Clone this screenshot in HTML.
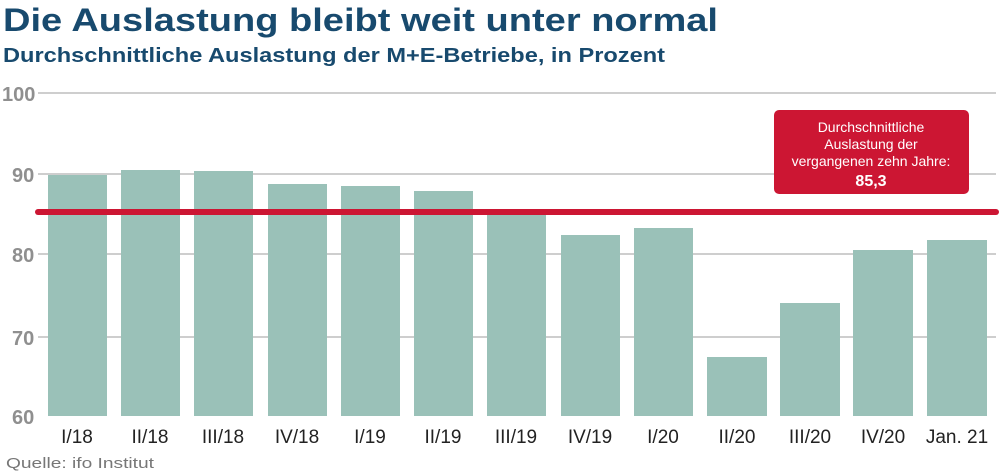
<!DOCTYPE html>
<html><head><meta charset="utf-8"><style>
html,body{margin:0;padding:0;background:#fff;}
svg{display:block;font-family:"Liberation Sans",sans-serif;}
</style></head><body>
<svg width="1000" height="475" viewBox="0 0 1000 475">
<text x="3" y="31" font-size="32" font-weight="bold" fill="#184a6e" textLength="715" lengthAdjust="spacingAndGlyphs">Die Auslastung bleibt weit unter normal</text>
<text x="3" y="62" font-size="20" font-weight="bold" fill="#184a6e" textLength="662" lengthAdjust="spacingAndGlyphs">Durchschnittliche Auslastung der M+E-Betriebe, in Prozent</text>
<g stroke="#bdbdbd" stroke-width="1.5">
<line x1="38" y1="93" x2="996" y2="93"/>
<line x1="38" y1="174" x2="996" y2="174"/>
<line x1="38" y1="254" x2="996" y2="254"/>
<line x1="38" y1="337" x2="996" y2="337"/>
</g>
<g font-size="20" font-weight="bold" fill="#8f8f8f">
<text x="2" y="101">100</text>
<text x="12" y="182">90</text>
<text x="12" y="262">80</text>
<text x="12" y="345">70</text>
<text x="12" y="424">60</text>
</g>
<g fill="#9ac1b8">
<rect x="48" y="175" width="59" height="241"/>
<rect x="121" y="170" width="59" height="246"/>
<rect x="194" y="171" width="59" height="245"/>
<rect x="268" y="184" width="59" height="232"/>
<rect x="341" y="186" width="59" height="230"/>
<rect x="414" y="191" width="59" height="225"/>
<rect x="487" y="209" width="59" height="207"/>
<rect x="561" y="235" width="59" height="181"/>
<rect x="634" y="228" width="59" height="188"/>
<rect x="707" y="357" width="60" height="59"/>
<rect x="780" y="303" width="60" height="113"/>
<rect x="853" y="250" width="60" height="166"/>
<rect x="927" y="240" width="60" height="176"/>
</g>
<line x1="38" y1="212" x2="996" y2="212" stroke="#cc1633" stroke-width="6" stroke-linecap="round"/>
<rect x="774" y="110" width="195" height="84" rx="5" fill="#cc1633"/>
<g fill="#fff" font-size="14" text-anchor="middle">
<text x="871" y="132">Durchschnittliche</text>
<text x="871" y="149">Auslastung der</text>
<text x="871" y="166">vergangenen zehn Jahre:</text>
<text x="871" y="186" font-size="16" font-weight="bold">85,3</text>
</g>
<g font-size="19" fill="#222" text-anchor="middle">
<text x="77" y="443">I/18</text>
<text x="150" y="443">II/18</text>
<text x="223" y="443">III/18</text>
<text x="297" y="443">IV/18</text>
<text x="370" y="443">I/19</text>
<text x="443" y="443">II/19</text>
<text x="516" y="443">III/19</text>
<text x="590" y="443">IV/19</text>
<text x="663" y="443">I/20</text>
<text x="737" y="443">II/20</text>
<text x="810" y="443">III/20</text>
<text x="883" y="443">IV/20</text>
<text x="957" y="443">Jan. 21</text>
</g>
<text x="6" y="468" font-size="15" fill="#777" textLength="148" lengthAdjust="spacingAndGlyphs">Quelle: ifo Institut</text>
</svg>
</body></html>
